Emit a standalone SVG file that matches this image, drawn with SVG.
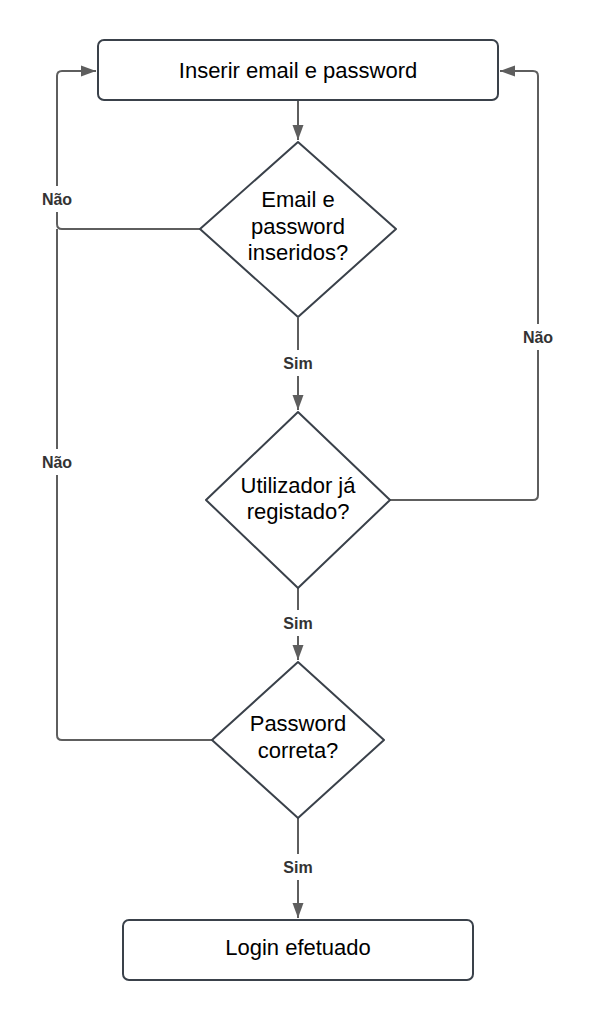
<svg xmlns="http://www.w3.org/2000/svg" width="595" height="1020" viewBox="0 0 595 1020">
<style>
.node{fill:#fff;stroke:#3a414a;stroke-width:2}
.t{font-family:"Liberation Sans",Arial,sans-serif;font-size:22px;fill:#000;text-anchor:middle}
.c{fill:none;stroke:#5e5e5e;stroke-width:2}
.lb{font-family:"Liberation Sans",Arial,sans-serif;font-size:16px;font-weight:bold;fill:#333;text-anchor:middle}
.bg{fill:#fff}
</style>
<defs>
<marker id="ah" markerUnits="userSpaceOnUse" markerWidth="16" markerHeight="12" refX="15" refY="6" orient="auto">
<path d="M0,0.5 L15,6 L0,11.5 z" fill="#5e5e5e"/>
</marker>
</defs>
<rect width="595" height="1020" fill="#fff"/>
<g id="connectors">
<path class="c" d="M298,101 V140" marker-end="url(#ah)"/>
<path class="c" d="M200,229 H62 Q57,229 57,224 V76 Q57,71 62,71 H96" marker-end="url(#ah)"/>
<path class="c" d="M298,318 V410" marker-end="url(#ah)"/>
<path class="c" d="M390,500 H533 Q538,500 538,495 V76 Q538,71 533,71 H500" marker-end="url(#ah)"/>
<path class="c" d="M298,588 V660" marker-end="url(#ah)"/>
<path class="c" d="M212,740 H62 Q57,740 57,735 V229"/>
<path class="c" d="M298,818 V918" marker-end="url(#ah)"/>
<rect class="bg" x="35" y="186" width="44" height="26"/>
<text class="lb" x="57" y="204.5">Não</text>
<rect class="bg" x="35" y="449" width="44" height="26"/>
<text class="lb" x="57" y="467.5">Não</text>
<rect class="bg" x="516" y="324" width="44" height="26"/>
<text class="lb" x="538" y="342.5">Não</text>
<rect class="bg" x="278" y="350" width="40" height="26"/>
<text class="lb" x="298" y="368.5">Sim</text>
<rect class="bg" x="278" y="610" width="40" height="26"/>
<text class="lb" x="298" y="628.5">Sim</text>
<rect class="bg" x="278" y="854" width="40" height="26"/>
<text class="lb" x="298" y="872.5">Sim</text>
</g>
<g id="n1">
<rect class="node" x="98" y="40" width="400" height="60" rx="6"/>
<text class="t" x="298" y="78">Inserir email e password</text>
</g>
<g id="n2">
<path class="node" d="M298,142 L396,229 L298,317 L200,229 Z" stroke-linejoin="round"/>
<text class="t" x="298" y="207">Email e</text>
<text class="t" x="298" y="234">password</text>
<text class="t" x="298" y="260">inseridos?</text>
</g>
<g id="n3">
<path class="node" d="M298,412 L390,500 L298,588 L206,500 Z" stroke-linejoin="round"/>
<text class="t" x="298" y="493">Utilizador já</text>
<text class="t" x="298" y="519">registado?</text>
</g>
<g id="n4">
<path class="node" d="M298,662 L384,740 L298,818 L212,740 Z" stroke-linejoin="round"/>
<text class="t" x="298" y="731">Password</text>
<text class="t" x="298" y="758">correta?</text>
</g>
<g id="n5">
<rect class="node" x="123" y="920" width="350" height="60" rx="6"/>
<text class="t" x="298" y="955">Login efetuado</text>
</g>
</svg>
